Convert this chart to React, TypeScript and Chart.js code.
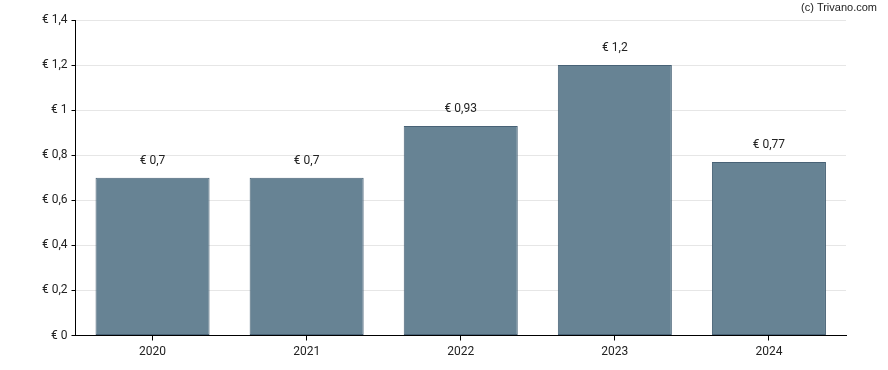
import React, { useEffect, useRef } from "react";
import { Chart, registerables } from "chart.js";

Chart.register(...registerables);

const categories = ["2020", "2021", "2022", "2023", "2024"];
const values = [0.7, 0.7, 0.93, 1.2, 0.77];
const valueLabels = ["€ 0,7", "€ 0,7", "€ 0,93", "€ 1,2", "€ 0,77"];
const yTicks = [0, 0.2, 0.4, 0.6, 0.8, 1, 1.2, 1.4];
const copyright = "(c) Trivano.com";

const fmt = (v: number) => "€ " + String(Math.round(v * 10) / 10).replace(".", ",");

const labelPlugin = {
  id: "valueLabels",
  afterDatasetsDraw(chart: any) {
    const ctx = chart.ctx;
    const meta = chart.getDatasetMeta(0);
    ctx.save();
    ctx.font = "12px Roboto";
    ctx.fillStyle = "#222";
    ctx.textAlign = "center";
    ctx.textBaseline = "middle";
    meta.data.forEach((bar: any, i: number) => {
      ctx.fillText(valueLabels[i], bar.x, bar.y - 17);
    });
    ctx.font = "11px 'Liberation Sans', Arial";
    ctx.textAlign = "right";
    ctx.fillText(copyright, 877, 8);
    ctx.restore();
  },
};

export default function App() {
  const ref = useRef<HTMLCanvasElement>(null);
  useEffect(() => {
    const chart = new Chart(ref.current!, {
      type: "bar",
      data: {
        labels: categories,
        datasets: [
          {
            data: values,
            backgroundColor: "rgb(103,131,148)",
            borderColor: "rgb(72,98,118)",
            borderWidth: 1,
            borderSkipped: false,
            barPercentage: 0.74,
            categoryPercentage: 1,
          },
        ],
      },
      options: {
        animation: false,
        responsive: false,
        layout: { padding: { left: 0, right: 42, top: 20, bottom: 0 } },
        plugins: { legend: { display: false }, tooltip: { enabled: false } },
        scales: {
          x: {
            grid: {
              offset: false,
              drawOnChartArea: false,
              drawTicks: true,
              tickLength: 5,
              tickColor: "#000",
            },
            border: { color: "#000", width: 1 },
            ticks: { color: "#222", font: { family: "Roboto", size: 12 }, padding: 4 },
            afterFit: (s: any) => {
              s.height = 34.5;
            },
          },
          y: {
            min: 0,
            max: 1.4,
            afterBuildTicks: (s: any) => {
              s.ticks = yTicks.map((v) => ({ value: v }));
            },
            grid: { color: "#e6e6e6", tickLength: 4, tickColor: "#000" },
            border: { color: "#000", width: 1 },
            ticks: {
              color: "#222",
              font: { family: "Roboto", size: 12 },
              padding: 4,
              callback: (v: any) => fmt(Number(v)),
            },
            afterFit: (s: any) => {
              s.width = 75.5;
            },
          },
        },
      },
      plugins: [labelPlugin],
    });
    return () => chart.destroy();
  }, []);
  return (
    <div style={{ position: "absolute", left: 0, top: 0, width: 888, height: 370, background: "#fff" }}>
      <canvas ref={ref} width={888} height={370} />
    </div>
  );
}
